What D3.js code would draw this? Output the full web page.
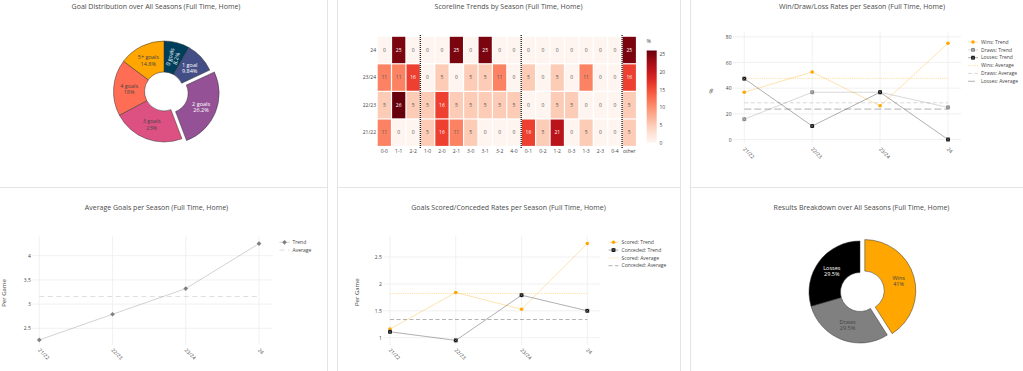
<!DOCTYPE html>
<html>
<head>
<meta charset="utf-8">
<script src="https://cdn.jsdelivr.net/npm/d3@7"></script>
<style>
  body { margin: 0; background: #fff; }
  text { font-family: "Open Sans", sans-serif; fill: #444; }
</style>
</head>
<body>
<svg id="dash" width="1023" height="371"></svg>
<script>
// ---- data ----
var seasons = ["21/22", "22/23", "23/24", "24"];

var goalLabels = ["0 goals", "1 goal", "2 goals", "3 goals", "4 goals", "5+ goals"];
var goalPct = [8.2, 9.84, 26.2, 23, 18, 14.8];
var goalColors = ["#003f5c", "#444e86", "#955196", "#dd5182", "#ff6e54", "#ffa600"];

var scorelines = ["0-0", "1-1", "2-2", "1-0", "2-0", "2-1", "3-0", "3-1", "3-2", "4-0",
                  "0-1", "0-2", "1-2", "0-3", "1-3", "2-3", "0-4", "other"];
var heat2122 = [11, 0, 0, 5, 16, 11, 5, 0, 0, 0, 16, 5, 21, 0, 5, 0, 0, 5];
var heat2223 = [5, 26, 5, 5, 16, 5, 5, 5, 5, 5, 0, 0, 5, 5, 0, 0, 0, 5];
var heat2324 = [11, 11, 16, 0, 5, 0, 5, 5, 11, 0, 5, 0, 5, 0, 11, 0, 0, 16];
var heat24   = [0, 25, 0, 0, 0, 25, 0, 25, 0, 0, 0, 0, 0, 0, 0, 0, 0, 25];
var groupBreaks = ["1-0", "0-1", "other"];   // dashed separators before these columns
var colorTicks = [0, 5, 10, 15, 20, 25];

var winRate  = [36.8, 52.6, 26.3, 75];
var drawRate = [15.8, 36.8, 36.8, 25];
var lossRate = [47.4, 10.5, 36.8, 0];
var wdlTicks = [0, 20, 40, 60, 80];

var avgGoals = [2.26, 2.79, 3.32, 4.25];
var avgTicks = [2.5, 3, 3.5, 4];

var scoredRate   = [1.16, 1.84, 1.53, 2.75];
var concededRate = [1.11, 0.95, 1.79, 1.5];
var gsTicks = [1, 1.5, 2, 2.5];

var resultLabels = ["Wins", "Draws", "Losses"];
var resultPct = [41, 29.5, 29.5];
var resultColors = ["#ffa600", "#808080", "#000000"];

// ---- setup ----
var svg = d3.select("#dash");

// card borders
var cards = [
  [-20, -20, 347.5, 207.5], [337.5, -20, 343, 207.5], [690.5, -20, 360, 207.5],
  [-20, 187.5, 347.5, 220], [337.5, 187.5, 343, 220], [690.5, 187.5, 360, 220]
];
svg.selectAll("rect.card").data(cards).join("rect")
  .attr("class", "card")
  .attr("x", d => d[0]).attr("y", d => d[1])
  .attr("width", d => d[2]).attr("height", d => d[3])
  .attr("fill", "none").attr("stroke", "#e4e4e4").attr("stroke-width", 1);

function title(x, y, txt) {
  svg.append("text").attr("x", x).attr("y", y)
    .attr("text-anchor", "middle").attr("font-size", 7)
    .style("fill", "#4a4a4a").text(txt);
}

title(156, 8.8, "Goal Distribution over All Seasons (Full Time, Home)");
title(508.5, 8.8, "Scoreline Trends by Season (Full Time, Home)");
title(862, 8.8, "Win/Draw/Loss Rates per Season (Full Time, Home)");
title(156.5, 209.5, "Average Goals per Season (Full Time, Home)");
title(508.5, 209.5, "Goals Scored/Conceded Rates per Season (Full Time, Home)");
title(861.5, 209.5, "Results Breakdown over All Seasons (Full Time, Home)");

// ---- donut helper ----
function donut(cx, cy, r, r0, pull, values, labels, colors, textColors, pulled, radial) {
  var g = svg.append("g").attr("transform", `translate(${cx},${cy})`);
  var arcs = d3.pie().sort(null)(values);
  var arc = d3.arc().innerRadius(r0).outerRadius(r);
  var slice = g.selectAll("g.slice").data(arcs).join("g")
    .attr("class", "slice")
    .attr("transform", function(d, i) {
      if (i !== pulled) return null;
      var a = (d.startAngle + d.endAngle) / 2;
      return `translate(${Math.sin(a) * pull},${-Math.cos(a) * pull})`;
    });
  slice.append("path")
    .attr("d", arc)
    .attr("fill", (d, i) => colors[i])
    .attr("stroke", "#333").attr("stroke-width", 0.5);
  slice.append("text")
    .attr("text-anchor", "middle")
    .attr("font-size", 5.5)
    .attr("transform", function(d, i) {
      var c = arc.centroid(d);
      if (i === radial) {
        var a = (d.startAngle + d.endAngle) / 2 * 180 / Math.PI;
        return `translate(${c[0]},${c[1]}) rotate(${a - 90})`;
      }
      return `translate(${c[0]},${c[1]})`;
    })
    .style("fill", (d, i) => textColors[i])
    .each(function(d, i) {
      var t = d3.select(this);
      t.append("tspan").attr("x", 0).attr("dy", "-0.15em").text(labels[i]);
      t.append("tspan").attr("x", 0).attr("dy", "1.15em").text(values[i] + "%");
    });
}

donut(164, 91.5, 50.5, 19.5, 5, goalPct, goalLabels, goalColors,
      ["#fff", "#fff", "#fff", "#444", "#444", "#444"], 2, 0);

donut(860, 292, 51, 19.5, 5, resultPct, resultLabels, resultColors,
      ["#444", "#444", "#fff"], 0, -1);

// ---- heatmap ----
var heatRows = [
  { season: "24", vals: heat24 },
  { season: "23/24", vals: heat2324 },
  { season: "22/23", vals: heat2223 },
  { season: "21/22", vals: heat2122 }
];
var hx = d3.scaleBand().domain(scorelines).range([377.1, 636.5]);
var hy = d3.scaleBand().domain(heatRows.map(d => d.season)).range([36.2, 146.5]);
var heatColor = d3.scaleSequential(d3.interpolateReds).domain([0, 26]);

var hg = svg.append("g");
var cells = [];
heatRows.forEach(function(row) {
  row.vals.forEach(function(v, i) {
    cells.push({ season: row.season, score: scorelines[i], v: v });
  });
});
hg.selectAll("rect").data(cells).join("rect")
  .attr("x", d => hx(d.score) + 0.6)
  .attr("y", d => hy(d.season) + 0.6)
  .attr("width", hx.bandwidth() - 1.2)
  .attr("height", hy.bandwidth() - 1.2)
  .attr("fill", d => heatColor(d.v));
hg.selectAll("text").data(cells).join("text")
  .attr("x", d => hx(d.score) + hx.bandwidth() / 2)
  .attr("y", d => hy(d.season) + hy.bandwidth() / 2)
  .attr("dy", "0.35em")
  .attr("text-anchor", "middle")
  .attr("font-size", 5)
  .style("fill", d => d.v > 13 ? "#fff" : "#555")
  .text(d => d.v);

hg.selectAll("line.sep").data(groupBreaks).join("line")
  .attr("class", "sep")
  .attr("x1", d => hx(d)).attr("x2", d => hx(d))
  .attr("y1", 35).attr("y2", 148)
  .attr("stroke", "#222").attr("stroke-width", 1.4)
  .attr("stroke-dasharray", "1,1");

// heatmap axes
svg.append("g")
  .attr("transform", "translate(0,149)")
  .call(d3.axisBottom(hx).tickSize(0).tickPadding(0))
  .call(a => a.select(".domain").remove())
  .call(a => a.selectAll("text").attr("font-size", 5).attr("font-family", null).attr("dy", "0.71em"));
svg.append("g")
  .attr("transform", "translate(376,0)")
  .call(d3.axisLeft(hy).tickSize(0).tickPadding(0))
  .call(a => a.select(".domain").remove())
  .call(a => a.selectAll("text").attr("font-size", 5).attr("font-family", null));

// colorbar
var grad = svg.append("defs").append("linearGradient")
  .attr("id", "redsGrad").attr("x1", 0).attr("x2", 0).attr("y1", 1).attr("y2", 0);
d3.range(0, 1.0001, 0.1).forEach(function(t) {
  grad.append("stop").attr("offset", t).attr("stop-color", heatColor(t * 26));
});
var cb = d3.scaleLinear().domain([0, 26]).range([142.7, 50.5]);
svg.append("rect")
  .attr("x", 646.7).attr("y", cb(26)).attr("width", 10)
  .attr("height", cb(0) - cb(26)).attr("fill", "url(#redsGrad)");
svg.append("g")
  .attr("transform", "translate(658,0)")
  .call(d3.axisRight(cb).tickValues(colorTicks).tickSize(0).tickPadding(1.5))
  .call(a => a.select(".domain").remove())
  .call(a => a.selectAll("text").attr("font-size", 5).attr("font-family", null));
svg.append("text").attr("x", 646.5).attr("y", 43).attr("font-size", 5.5).text("%");

// ---- line chart helpers ----
function marker(g, type, color, x, y) {
  if (type === "circle") {
    g.append("circle").attr("cx", x).attr("cy", y).attr("r", 1.8).attr("fill", color);
  } else if (type === "diamond") {
    g.append("path").attr("transform", `translate(${x},${y})`)
      .attr("d", d3.symbol(d3.symbolDiamond2, 14)).attr("fill", color);
  } else if (type === "squarex") {
    var s = 1.9;
    g.append("rect").attr("x", x - s).attr("y", y - s)
      .attr("width", 2 * s).attr("height", 2 * s).attr("fill", color);
    g.append("path")
      .attr("d", `M${x - s},${y - s}L${x + s},${y + s}M${x - s},${y + s}L${x + s},${y - s}`)
      .attr("stroke", "#fff").attr("stroke-opacity", 0.55).attr("stroke-width", 0.6);
  }
}

function lineChart(cfg) {
  var g = svg.append("g");
  var x = d3.scalePoint().domain(seasons).range(cfg.xr);
  var y = d3.scaleLinear().domain(cfg.yd).range(cfg.yr);

  // grid
  g.selectAll("line.hg").data(cfg.ticks).join("line")
    .attr("x1", cfg.gx[0]).attr("x2", cfg.gx[1])
    .attr("y1", d => y(d)).attr("y2", d => y(d))
    .attr("stroke", "#eee").attr("stroke-width", 0.8);
  g.selectAll("line.vg").data(seasons).join("line")
    .attr("x1", d => x(d)).attr("x2", d => x(d))
    .attr("y1", cfg.gy[0]).attr("y2", cfg.gy[1])
    .attr("stroke", "#eee").attr("stroke-width", 0.8);

  // y axis
  g.append("g")
    .attr("transform", `translate(${cfg.gx[0] - 1.5},0)`)
    .call(d3.axisLeft(y).tickValues(cfg.ticks).tickSize(0).tickPadding(0).tickFormat(d3.format("~g")))
    .call(a => a.select(".domain").remove())
    .call(a => a.selectAll("text").attr("font-size", 5).attr("font-family", null));
  g.append("text")
    .attr("transform", `translate(${cfg.ylab[0]},${cfg.ylab[1]}) rotate(-90)`)
    .attr("text-anchor", "middle").attr("font-size", 6).text(cfg.ytitle);

  // x axis, angled labels
  g.append("g")
    .attr("transform", `translate(0,${cfg.gy[1] + cfg.xlabOff})`)
    .call(d3.axisBottom(x).tickSize(0).tickPadding(0))
    .call(a => a.select(".domain").remove())
    .call(a => a.selectAll("text")
      .attr("font-size", 5).attr("font-family", null)
      .attr("y", 0).attr("dy", "0.35em").attr("x", -1)
      .attr("text-anchor", "start")
      .attr("transform", "rotate(45)"));

  // average lines
  cfg.averages.forEach(function(av) {
    var m = d3.mean(av.values);
    g.append("line")
      .attr("x1", x(seasons[0])).attr("x2", x(seasons[seasons.length - 1]))
      .attr("y1", y(m)).attr("y2", y(m))
      .attr("stroke", av.color).attr("stroke-width", 0.9)
      .attr("stroke-dasharray", av.dash);
  });

  // trend lines then markers
  var line = d3.line().x((d, i) => x(seasons[i])).y(d => y(d));
  cfg.trends.forEach(function(tr) {
    g.append("path").attr("d", line(tr.values))
      .attr("fill", "none").attr("stroke", tr.line).attr("stroke-width", 0.9);
  });
  cfg.trends.forEach(function(tr) {
    tr.values.forEach(function(v, i) { marker(g, tr.marker, tr.color, x(seasons[i]), y(v)); });
  });

  // legend
  var entries = cfg.trends.map(t => ({ name: t.name, line: t.line, marker: t.marker, color: t.color }))
    .concat(cfg.averages.map(a => ({ name: a.name, line: a.color, dash: a.dash })));
  entries.forEach(function(e, i) {
    var ly = cfg.leg[1] + i * cfg.legStep;
    var lx = cfg.leg[0];
    g.append("line").attr("x1", lx).attr("x2", lx + 10).attr("y1", ly).attr("y2", ly)
      .attr("stroke", e.line).attr("stroke-width", 0.9)
      .attr("stroke-dasharray", e.dash || null);
    if (e.marker) marker(g, e.marker, e.color, lx + 5, ly);
    g.append("text").attr("x", lx + 13).attr("y", ly).attr("dy", "0.35em")
      .attr("font-size", 5).text(e.name);
  });
}

lineChart({
  xr: [744.3, 948], yd: [0, 80], yr: [139.5, 36.8],
  gx: [733, 961], gy: [31.7, 143], ticks: wdlTicks, xlabOff: 6,
  ytitle: "%", ylab: [713, 91],
  leg: [968, 42], legStep: 7.85,
  trends: [
    { name: "Wins: Trend", values: winRate, line: "rgba(255,166,0,0.35)", marker: "circle", color: "#ffa600" },
    { name: "Draws: Trend", values: drawRate, line: "rgba(128,128,128,0.35)", marker: "squarex", color: "#808080" },
    { name: "Losses: Trend", values: lossRate, line: "rgba(0,0,0,0.35)", marker: "squarex", color: "#000" }
  ],
  averages: [
    { name: "Wins: Average", values: winRate, color: "rgba(255,166,0,0.45)", dash: "1,1.2" },
    { name: "Draws: Average", values: drawRate, color: "rgba(128,128,128,0.35)", dash: "4,2.5" },
    { name: "Losses: Average", values: lossRate, color: "rgba(0,0,0,0.35)", dash: "7,3" }
  ]
});

lineChart({
  xr: [39.3, 259], yd: [2.5, 4], yr: [328.3, 255.7],
  gx: [32.3, 272.7], gy: [236.7, 345], ticks: avgTicks, xlabOff: 5,
  ytitle: "Per Game", ylab: [6, 293],
  leg: [279.5, 242.3], legStep: 7.8,
  trends: [
    { name: "Trend", values: avgGoals, line: "rgba(128,128,128,0.4)", marker: "diamond", color: "#808080" }
  ],
  averages: [
    { name: "Average", values: avgGoals, color: "rgba(128,128,128,0.3)", dash: "5,3.5" }
  ]
});

lineChart({
  xr: [390, 587.3], yd: [1, 2.5], yr: [337.7, 257],
  gx: [383.3, 600], gy: [235.7, 345], ticks: gsTicks, xlabOff: 5,
  ytitle: "Per Game", ylab: [359, 292.3],
  leg: [608.5, 242.3], legStep: 7.8,
  trends: [
    { name: "Scored: Trend", values: scoredRate, line: "rgba(255,166,0,0.35)", marker: "circle", color: "#ffa600" },
    { name: "Conceded: Trend", values: concededRate, line: "rgba(0,0,0,0.35)", marker: "squarex", color: "#000" }
  ],
  averages: [
    { name: "Scored: Average", values: scoredRate, color: "rgba(255,166,0,0.45)", dash: "1,1.2" },
    { name: "Conceded: Average", values: concededRate, color: "rgba(0,0,0,0.35)", dash: "4,2.5" }
  ]
});
</script>
</body>
</html>
